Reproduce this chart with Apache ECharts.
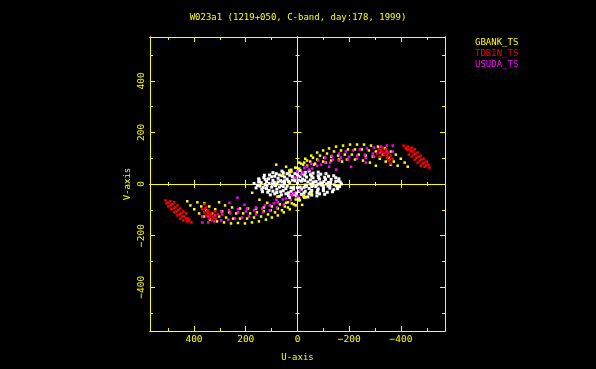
<!DOCTYPE html>
<html>
<head>
<meta charset="utf-8">
<script src="https://cdn.jsdelivr.net/npm/echarts@6/dist/echarts.min.js"></script>
<style>
html,body{margin:0;padding:0;background:#000;}
#chart{width:596px;height:369px;}
</style>
</head>
<body>
<div id="chart"></div>
<script>
// ---- data (u, v) ----
const titleText = 'W023a1 (1219+050, C-band, day:178, 1999)';
const seriesNames = ['GBANK_TS', 'TDBIN_TS', 'USUDA_TS'];
const majorTicks = [-400, -200, 0, 200, 400];
const minorTicks = [-500, -300, -100, 100, 300, 500];

const gbankUV = [
  // upper-right arcs
  [-7,83],[-30,98],[-53,110],[-76,122],[-99,130],[-122,138],[-149,145],[-176,149],[-203,153],[-230,153],[-257,153],[-284,149],[-311,145],[-338,138],[-361,126],[-380,114],[-399,98],[-414,83],[-426,67],
  [9,63],[-14,79],[-37,91],[-60,102],[-87,110],[-114,118],[-141,126],[-168,130],[-195,134],[-222,134],[-249,134],[-276,130],[-303,126],[-330,114],[-353,102],[-372,87],[-387,71],
  [32,52],[5,63],[-22,75],[-49,87],[-76,95],[-103,102],[-130,106],[-157,110],[-183,114],[-210,114],[-237,114],[-264,110],[-291,106],[-318,98],[-341,87],[-360,75],
  [55,36],[24,48],[-7,60],[-37,71],[-68,79],[-99,87],[-130,91],[-160,95],[-191,95],[-222,95],[-253,91],[-280,83],[-303,71],
  [82,75],[44,67],[-26,83],[-64,75],[-110,83],[-172,87],
  // lower-left arcs
  [7,-83],[30,-98],[53,-110],[76,-122],[99,-130],[122,-138],[149,-145],[176,-149],[203,-153],[230,-151],[257,-153],[284,-149],[311,-145],[338,-138],[361,-126],[380,-114],[399,-98],[414,-83],[426,-67],
  [-9,-63],[14,-79],[37,-91],[60,-102],[87,-110],[114,-118],[141,-126],[168,-130],[195,-134],[222,-134],[249,-134],[276,-130],[303,-126],[330,-114],[353,-102],[372,-87],[387,-71],
  [-32,-52],[-5,-63],[22,-75],[49,-87],[76,-95],[103,-102],[130,-106],[157,-110],[183,-114],[210,-114],[237,-114],[264,-110],[291,-106],[318,-98],[341,-87],[360,-75],
  [-55,-36],[-24,-48],[7,-60],[37,-71],[68,-79],[99,-87],[130,-91],[160,-95],[191,-95],[222,-95],[253,-91],[280,-83],[303,-71],
  [175,-34],[147,-61],[117,-73],[44,-73],[-18,-81],[-26,-53],[78,-49]
];

const tdbinUV = [
  // upper-right hooks
  [-410,149],[-426,145],[-441,141],[-453,134],[-464,122],[-476,110],[-487,98],[-499,87],[-506,75],[-510,64],
  [-422,134],[-437,126],[-449,114],[-460,102],[-472,91],[-483,79],[-491,67],
  [-430,114],[-441,106],[-453,95],[-464,83],[-476,71],
  [-418,140],[-432,134],[-445,126],[-456,118],[-468,106],[-479,95],[-490,83],[-498,72],
  [-314,134],[-326,126],[-333,114],[-345,102],[-353,91],[-360,79],
  [-330,141],[-341,134],[-353,122],[-360,110],[-368,98],[-307,118],[-318,106],
  [-322,130],[-336,122],[-345,114],[-350,106],[-357,95],
  // lower-left hooks
  [410,-149],[426,-145],[441,-141],[453,-134],[464,-122],[476,-110],[487,-98],[499,-87],[506,-75],[510,-64],
  [422,-134],[437,-126],[449,-114],[460,-102],[472,-91],[483,-79],[491,-67],
  [430,-114],[441,-106],[453,-95],[464,-83],[476,-71],
  [418,-140],[432,-134],[445,-126],[456,-118],[468,-106],[479,-95],[490,-83],[498,-72],
  [314,-134],[326,-126],[333,-114],[345,-102],[353,-91],[360,-79],
  [330,-141],[341,-134],[353,-122],[360,-110],[368,-98],[307,-118],[318,-106],
  [322,-130],[336,-122],[345,-114],[350,-106],[357,-95]
];

const usudaUV = [
  // upper-right arcs
  [1,48],[-26,63],[-53,79],[-80,91],[-107,102],[-133,110],[-160,118],[-187,126],[-214,130],[-241,134],[-268,138],[-295,141],[-322,145],[-345,149],[-368,149],
  [-14,36],[-45,56],[-76,71],[-107,83],[-137,95],[-168,102],[-199,106],[-230,110],[-260,114],[-291,118],[-318,122],[-345,126],[-368,126],
  [9,25],[-22,44],[-57,60],[-91,75],[-126,83],[-160,91],[-195,95],[-230,98],[-264,102],[-295,106],
  [-37,67],[-122,67],[-149,56],[-207,67],[-264,83],
  // lower-left arcs
  [-1,-48],[26,-63],[53,-79],[80,-91],[107,-102],[133,-110],[160,-118],[187,-126],[214,-130],[241,-134],[268,-138],[295,-141],[322,-145],[345,-149],[368,-149],
  [14,-36],[45,-56],[76,-71],[107,-83],[137,-95],[168,-102],[199,-106],[230,-110],[260,-114],[291,-118],[318,-122],[345,-126],[368,-126],
  [-9,-25],[22,-44],[57,-60],[91,-75],[126,-83],[160,-91],[195,-95],[230,-98],[264,-102],[295,-106],
  [263,-73],[232,-53],[205,-81],[82,-61],[25,-42]
];

const otherUV = [
  [168,2],[160,-15],[150,20],[135,-30],[128,34],[105,-42],[95,44],[70,-48],[60,50],[30,-52],[25,54],[-5,-55],[-10,52],[-40,-50],[-45,50],[-75,-46],[-80,46],[-105,-40],[-110,40],[-135,-30],[-140,32],[-155,-18],[-160,20],[-170,0],
  [140,5],[132,-14],[125,18],[110,-25],[100,28],[80,-33],[70,35],[45,-38],[40,40],[15,-40],[10,40],[-15,-40],[-20,40],[-45,-38],[-50,36],[-75,-33],[-80,32],[-100,-26],[-105,26],[-125,-16],[-130,18],[-142,-3],
  [110,2],[100,-12],[95,14],[80,-20],[75,22],[55,-26],[50,27],[25,-28],[20,29],[-5,-29],[-10,29],[-30,-28],[-35,27],[-55,-25],[-60,24],[-80,-19],[-85,19],[-100,-10],[-102,10],[-112,0],
  [80,0],[70,-12],[65,13],[45,-18],[40,19],[15,-20],[10,20],[-15,-20],[-20,19],[-45,-17],[-50,16],[-70,-10],[-72,10],[-82,0],
  [50,2],[40,-8],[35,10],[15,-12],[10,12],[-10,-12],[-15,11],[-35,-9],[-40,8],[-50,0],
  [150,8],[145,-8],[120,10],[118,-6],[90,6],[88,-4],[60,8],[62,-6],[30,5],[0,3],[-30,-4],[-60,4],[-58,-6],[-90,5],[-92,-4],[-120,6],[-118,-8],[-148,10],[-150,-8],[-165,8],[-162,-10],
  [155,-5],[148,15],[138,-20],[130,25],[115,-32],[108,35],[88,-38],[82,40],[62,-42],[55,44],[35,-45],[30,46],[5,-46],[0,47],[-25,-46],[-30,45],[-55,-43],[-60,42],[-85,-38],[-90,38],[-115,-32],[-120,30],[-140,-22],[-148,24],[-160,-10],[-158,12],
  [125,-2],[120,-18],[112,20],[95,-28],[88,30],[65,-30],[60,32],[35,-34],[30,34],[5,-35],[0,35],[-25,-34],[-28,34],[-50,-32],[-55,30],[-78,-25],[-82,25],[-100,-18],[-108,18],[-125,-6],[-128,6],
  [95,0],[85,-6],[75,8],[55,-10],[50,12],[25,-14],[20,15],[0,-14],[-5,15],[-25,-13],[-28,14],[-55,-10],[-62,8],[-75,-4],[-95,2]
];

// ---- styling ----
const Y = '#ffff00';
const FONT = 'DejaVu Sans Mono';
const fmt = v => (v < 0 ? '\u2212' + (-v) : String(v));

function ax(isX, pos, ticks, len, inside, onZero, extra) {
  const a = {
    type: 'value', min: -570, max: 570, position: pos, gridIndex: 0,
    splitLine: { show: false },
    axisLine: { show: true, onZero: onZero, lineStyle: { color: Y, width: 1 } },
    axisTick: { show: true, inside: inside, length: len, customValues: ticks, lineStyle: { color: Y, width: 1 } },
    axisLabel: { show: false },
    silent: true
  };
  if (onZero) a.axisLine.onZeroAxisIndex = 0;
  if (isX) a.inverse = true;
  return Object.assign(a, extra || {});
}

const xAxes = [
  ax(true, 'bottom', majorTicks, 5, true, false, {
    name: 'U-axis', nameLocation: 'middle', nameGap: 22,
    nameTextStyle: { color: Y, fontFamily: FONT, fontSize: 9 },
    axisLabel: { show: true, customValues: majorTicks, color: Y, fontFamily: FONT, fontSize: 9.5, margin: 4, formatter: fmt }
  }),
  ax(true, 'bottom', minorTicks, 3, true, false),
  ax(true, 'top', majorTicks, 5, true, false),
  ax(true, 'top', minorTicks, 3, true, false),
  ax(true, 'bottom', majorTicks, 4, true, true),
  ax(true, 'bottom', majorTicks, 4, false, true),
  ax(true, 'bottom', minorTicks, 2, true, true),
  ax(true, 'bottom', minorTicks, 2, false, true)
];
const yAxes = [
  ax(false, 'left', majorTicks, 5, true, false, {
    name: 'V-axis', nameLocation: 'middle', nameGap: 18, nameRotate: 90,
    nameTextStyle: { color: Y, fontFamily: FONT, fontSize: 9 },
    axisLabel: { show: true, customValues: majorTicks, color: Y, fontFamily: FONT, fontSize: 9.5, margin: 3, rotate: 90, formatter: fmt }
  }),
  ax(false, 'left', minorTicks, 3, true, false),
  ax(false, 'right', majorTicks, 5, true, false),
  ax(false, 'right', minorTicks, 3, true, false),
  ax(false, 'left', majorTicks, 4, true, true),
  ax(false, 'left', majorTicks, 4, false, true),
  ax(false, 'left', minorTicks, 2, true, true),
  ax(false, 'left', minorTicks, 2, false, true)
];

function scatter(name, data, color, size) {
  return {
    name: name, type: 'scatter', xAxisIndex: 0, yAxisIndex: 0,
    data: data, symbol: 'rect', symbolSize: size,
    itemStyle: { color: color, opacity: 1 }, silent: true, animation: false
  };
}

const chart = echarts.init(document.getElementById('chart'), null, { renderer: 'canvas' });
chart.setOption({
  backgroundColor: '#000',
  animation: false,
  title: {
    text: titleText, left: 'center', top: 8,
    textStyle: { color: Y, fontFamily: FONT, fontSize: 9, fontWeight: 'normal' }
  },
  legend: {
    orient: 'vertical', left: 465, top: 33, itemWidth: 0, itemHeight: 10, itemGap: 1,
    icon: 'rect', selectedMode: false,
    itemStyle: { opacity: 0, borderWidth: 0 },
    textStyle: { fontFamily: FONT, fontSize: 9, lineHeight: 10 },
    data: [
      { name: seriesNames[0], textStyle: { color: '#ffff00' } },
      { name: seriesNames[1], textStyle: { color: '#ff0000' } },
      { name: seriesNames[2], textStyle: { color: '#ff00ff' } }
    ]
  },
  grid: { left: 150, top: 37, width: 295, height: 294, containLabel: false },
  xAxis: xAxes,
  yAxis: yAxes,
  series: [
    scatter('other', otherUV, '#ffffff', 3),
    scatter(seriesNames[0], gbankUV, '#ffff00', 2.5),
    scatter(seriesNames[2], usudaUV, '#ff00ff', 2.5),
    scatter(seriesNames[1], tdbinUV, '#ff0000', 2.5)
  ]
});
</script>
</body>
</html>
